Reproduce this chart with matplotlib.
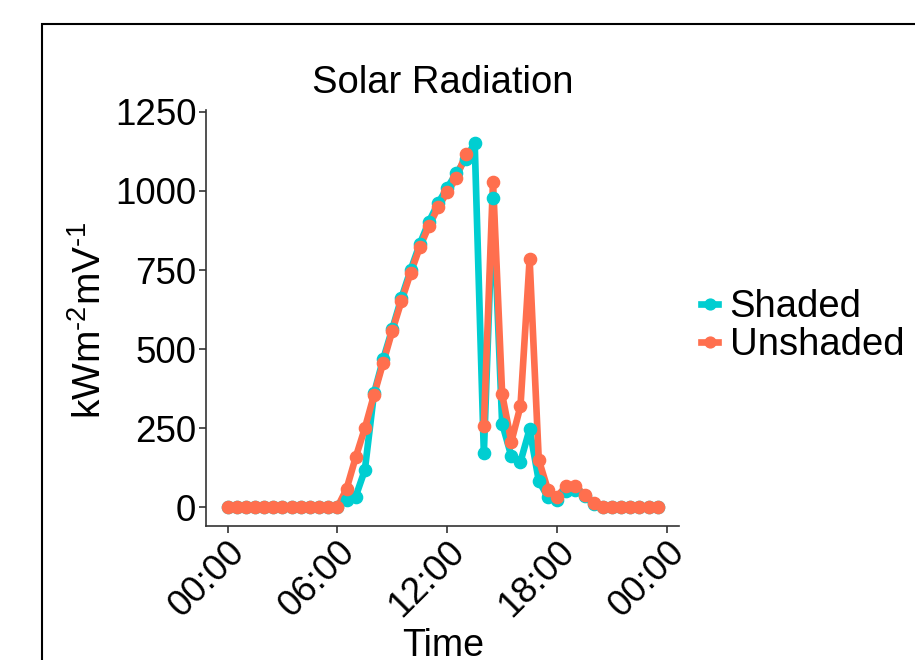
import numpy as np
import matplotlib
matplotlib.use("Agg")
import matplotlib.pyplot as plt
from matplotlib.patches import Rectangle

plt.rcParams['font.family'] = ['Liberation Sans', 'DejaVu Sans']
plt.rcParams['mathtext.default'] = 'regular'

# Half-hourly time stamps (hours since midnight)
hours = np.arange(48) * 0.5
tick_hours = [0, 6, 12, 18, 24]
tick_labels = ["00:00", "06:00", "12:00", "18:00", "00:00"]

shaded = [0, 0, 0, 0, 0, 0, 0, 0, 0, 0, 0, 0, 0,
          23, 34, 118, 360, 468, 564, 662, 750, 832, 903, 961, 1010, 1056, 1100,
          1152, 171, 979, 265, 162, 144, 247, 84, 32, 23, 53, 55, 35, 10,
          0, 0, 0, 0, 0, 0, 0]
unshaded = [0, 0, 0, 0, 0, 0, 0, 0, 0, 0, 0, 0, 0,
            58, 158, 250, 355, 457, 558, 652, 741, 822, 889, 948, 997, 1040, 1116,
            np.nan, 257, 1029, 357, 207, 320, 784, 150, 55, 34, 68, 68, 39, 13,
            0, 0, 0, 0, 0, 0, 0]

series = [("Shaded", shaded, "#00CED1"), ("Unshaded", unshaded, "#FF6F4E")]

fig = plt.figure(figsize=(9.15, 6.6), dpi=100)
ax = fig.add_axes([206/915, 1-526/660, (679.3-206)/915, (526-110)/660])

LW = 4.8
MS = 8.8
for name, vals, col in series:
    ax.plot(hours, vals, color=col, lw=LW, solid_capstyle='round', zorder=2)
for name, vals, col in series:
    ax.plot(hours, vals, color=col, lw=0, marker='o', ms=MS, zorder=3)

# legend handles
handles = [plt.Line2D([], [], color=c, lw=LW, marker='o', ms=MS - 1) for _, _, c in series]
leg = fig.legend(handles, [s[0] for s in series], loc='center left',
                 bbox_to_anchor=(701/915, 1-326/660), frameon=False,
                 fontsize=27.5, handlelength=0.45, handletextpad=0.3,
                 labelspacing=0.05, borderpad=0, borderaxespad=0)

ax.set_xlim(-1.175, 24.675)
ax.set_ylim(-59, 1256)
ax.set_xticks(tick_hours)
ax.set_xticklabels(tick_labels, rotation=45, ha='right', va='top',
                   rotation_mode='anchor')
ax.set_yticks([0, 250, 500, 750, 1000, 1250])
ax.tick_params(axis='both', labelsize=26.5, length=5, width=1.2, color='#333333',
               labelcolor='black')
ax.tick_params(axis='y', pad=2)
ax.tick_params(axis='x', pad=1)
for s in ['top', 'right']:
    ax.spines[s].set_visible(False)
for s in ['left', 'bottom']:
    ax.spines[s].set_color('#333333')
    ax.spines[s].set_linewidth(1.2)

ax.set_title("Solar Radiation", fontsize=27.5, pad=12)
ax.set_xlabel("Time", fontsize=27)
ax.set_ylabel("kWm$^{\u20102}$mV$^{\u20101}$", fontsize=28)
ax.yaxis.set_label_coords(-0.205, 0.495)
ax.xaxis.set_label_coords(0.5, -0.245)

fig.patches.append(Rectangle((42/915, -0.2), 1.5, 0.2 + 1 - 24/660,
                             transform=fig.transFigure, fill=False,
                             edgecolor='black', lw=1.5))

fig.savefig("out.png", dpi=100)
